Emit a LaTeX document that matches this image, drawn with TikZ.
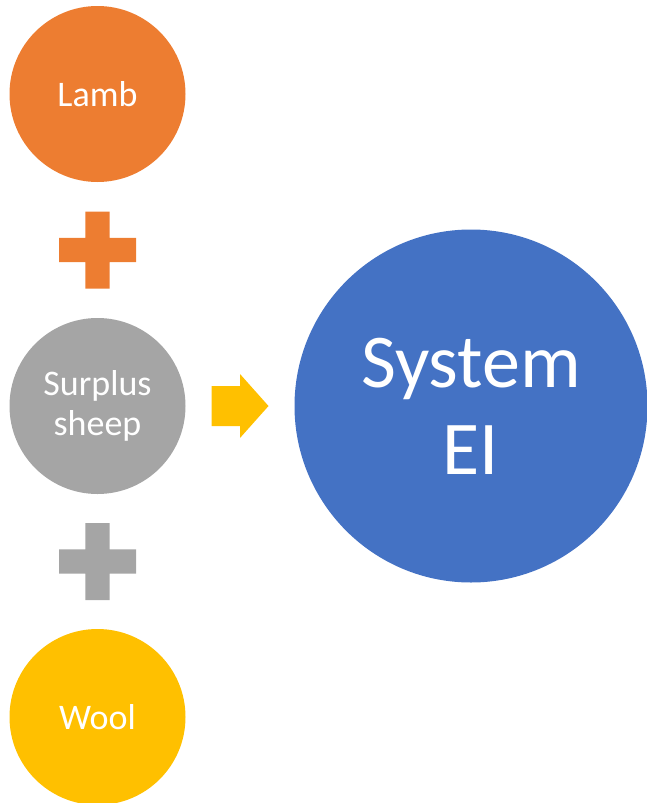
\documentclass[tikz,border=0pt]{standalone}
\usepackage{fontspec}
\setmainfont{Carlito}
\usepackage{tikz}
\usetikzlibrary{calc}
\definecolor{lambfill}{HTML}{ED7D31}
\definecolor{sheepfill}{HTML}{A5A5A5}
\definecolor{woolfill}{HTML}{FFC000}
\definecolor{systemfill}{HTML}{4472C4}

\begin{document}
\begin{tikzpicture}[
        x=1pt,
        y=-1pt,
        input/.style={
            circle,
            minimum size=176pt,
            inner sep=0pt,
            text=white,
            align=center,
            font=\fontsize{36}{40}\selectfont
        },
        result/.style={
            circle,
            minimum size=353pt,
            inner sep=0pt,
            text=white,
            align=center,
            fill=systemfill,
            font=\fontsize{76}{86.7}\selectfont
        },
        plusmark/.style={
            fill=#1
        }
    ]

        \useasboundingbox (0,0) rectangle (646,803);

        % Linke Spalte: drei Eingaben
        \node[input,fill=lambfill]  (lamb)  at (97.5,94)  {Lamb};
        \node[input,fill=sheepfill] (sheep) at (97.5,406) {Surplus\\sheep};
        \node[input,fill=woolfill]  (wool)  at (97.5,717) {Wool};

        % Rechts: Ergebnis
        \node[result] (system) at (471,406) {System\\EI};

        % Pluszeichen zwischen den Kreisen
        \coordinate (plus-top) at ($(lamb.south)!0.5!(sheep.north)$);
        \coordinate (plus-bottom) at ($(sheep.south)!0.5!(wool.north)$);

        \fill[plusmark=lambfill, shift={(plus-top)}]
            (-12.2,-38.5) rectangle (12.2,38.5)
            (-38.5,-12.2) rectangle (38.5,12.2);

        \fill[plusmark=sheepfill, shift={(plus-bottom)}]
            (-12.2,-38.5) rectangle (12.2,38.5)
            (-38.5,-12.2) rectangle (38.5,12.2);

        % Blockpfeil zum Ergebnis
        \coordinate (feed) at ($(sheep.east)!0.5!(system.west)$);

        \fill[woolfill, shift={(feed)}]
            (-28.3,-20) -- (0,-20) -- (0,-32) -- (28.5,0)
            -- (0,32) -- (0,20) -- (-28.3,20) -- cycle;

    \end{tikzpicture}
\end{document}
